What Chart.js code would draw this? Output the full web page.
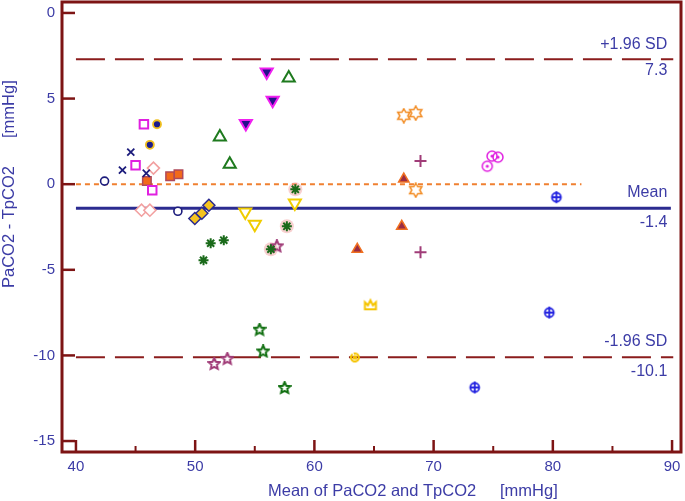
<!DOCTYPE html>
<html><head><meta charset="utf-8">
<script src="https://cdn.jsdelivr.net/npm/chart.js@4/dist/chart.umd.min.js"></script>
<style>html,body{margin:0;padding:0;background:#fff;}#wrap{width:685px;height:501px;}</style>
</head><body><div id="wrap"><canvas id="c" width="685" height="501"></canvas></div>
<script>
// ---------- data ----------
const meanDiff = -1.4, upperLoA = 7.3, lowerLoA = -10.1;
const xTickValues = [40, 50, 60, 70, 80, 90];
const xTickLabels = ['40', '50', '60', '70', '80', '90'];
const xMinorValues = [45, 55, 65, 75, 85];
const yTickValues = [-15, -10, -5, 0, 5, 10];
const yTickLabels = ['-15', '-10', '-5', '0', '5', '0'];
const xTitle = 'Mean of PaCO2 and TpCO2', xUnit = '[mmHg]';
const yTitle = 'PaCO2 - TpCO2', yUnit = '[mmHg]';

const xNavyX = [44.6, 43.9, 45.9];           const yNavyX = [1.87, 0.82, 0.64];
const xNavyCircle = [42.4, 48.55];           const yNavyCircle = [0.18, -1.58];
const xMagSquare = [45.7, 45.0, 46.4];       const yMagSquare = [3.5, 1.1, -0.35];
const xNavyDot = [46.8, 46.2];               const yNavyDot = [3.5, 2.3];
const xPinkDiamond = [46.5, 45.5, 46.2];     const yPinkDiamond = [0.94, -1.52, -1.52];
const xOrangeSquare = [47.9, 48.6, 45.95];   const yOrangeSquare = [0.47, 0.58, 0.18];
const xYellowDiamond = [49.97, 50.56, 51.15];const yYellowDiamond = [-2.0, -1.7, -1.23];
const xGreenTri = [52.07, 52.9, 57.85];      const yGreenTri = [2.75, 1.17, 6.2];
const xDownTri = [56.0, 56.5, 54.25];        const yDownTri = [6.55, 4.9, 3.55];
const xYellowDown = [54.2, 55.0, 58.36];     const yYellowDown = [-1.63, -2.34, -1.1];
const xGreenAst = [51.3, 52.4, 50.7, 58.4, 56.35, 57.69]; const yGreenAst = [-3.45, -3.27, -4.44, -0.3, -3.8, -2.46];
const xHalo = [58.4, 56.35, 57.69];          const yHalo = [-0.3, -3.8, -2.46];
const xPurpleStar = [51.6, 52.7, 56.85];     const yPurpleStar = [-10.5, -10.2, -3.63];
const xGreenStar = [55.4, 55.7, 57.5];       const yGreenStar = [-8.5, -9.77, -11.9];
const xBrownTri = [63.6, 67.33, 67.5];       const yBrownTri = [-3.8, -2.46, 0.3];
const xPurplePlus = [68.9, 68.9];            const yPurplePlus = [1.35, -3.97];
const xOrangeStar = [67.5, 68.5, 68.5];      const yOrangeStar = [4.0, 4.15, -0.35];
const xMagCircle = [74.9, 75.4, 74.5];       const yMagCircle = [1.64, 1.58, 1.05];
const xYellowCrown = [64.7];                 const yYellowCrown = [-7.07];
const xYellowSwirl = [63.4];                 const yYellowSwirl = [-10.06];
const xBlueCross = [80.3, 79.7, 73.45];      const yBlueCross = [-0.76, -7.5, -11.87];

// ---------- styles ----------
const AXIS = '#7d1414', TEXT = '#3c3ca6', FONT = '"Liberation Sans", Arial, sans-serif';
const pts = (xs, ys) => xs.map((x, i) => ({x, y: ys[i]}));
function mk(size, draw) { const c = document.createElement('canvas'); c.width = size; c.height = size; const g = c.getContext('2d'); draw(g, size / 2); return c; }
function starPath(g, c, n, ro, ri) { g.beginPath(); for (let i = 0; i < 2 * n; i++) { const r = i % 2 ? ri : ro; const a = -Math.PI / 2 + i * Math.PI / n; g.lineTo(c + r * Math.cos(a), c + r * Math.sin(a)); } g.closePath(); }
const star5 = col => mk(14, (g, c) => { starPath(g, c, 5, 6, 2.8); g.strokeStyle = col; g.lineWidth = 2; g.stroke(); });
const star6 = col => mk(16, (g, c) => { starPath(g, c, 6, 7, 4); g.strokeStyle = col; g.lineWidth = 1.5; g.stroke(); });
const crown = mk(16, (g, c) => { g.strokeStyle = '#f5c400'; g.lineWidth = 2; g.fillStyle = '#fff'; g.beginPath(); g.moveTo(c - 5.5, c + 4); g.lineTo(c - 5.5, c - 3); g.lineTo(c - 2.5, c); g.lineTo(c, c - 5); g.lineTo(c + 2.5, c); g.lineTo(c + 5.5, c - 3); g.lineTo(c + 5.5, c + 4); g.closePath(); g.fill(); g.stroke(); });
const swirl = mk(14, (g, c) => { g.strokeStyle = '#f5c400'; g.lineWidth = 2; g.beginPath(); g.arc(c, c + 1, 4, -Math.PI * 0.6, Math.PI * 1.3); g.stroke(); g.beginPath(); g.arc(c, c + 1, 1.3, 0, Math.PI * 2); g.stroke(); });
const ring = mk(14, (g, c) => { g.strokeStyle = '#e020e0'; g.lineWidth = 1.5; g.beginPath(); g.arc(c, c, 5, 0, Math.PI * 2); g.stroke(); g.fillStyle = '#e020e0'; g.beginPath(); g.arc(c, c, 1.6, 0, Math.PI * 2); g.fill(); });
const crossBox = mk(14, (g, c) => { g.strokeStyle = '#2424e0'; g.lineWidth = 1.8; g.beginPath(); g.arc(c, c, 4.5, 0, Math.PI * 2); g.moveTo(c - 4.5, c); g.lineTo(c + 4.5, c); g.moveTo(c, c - 6); g.lineTo(c, c + 6); g.stroke(); });

function sc(xs, ys, o) { return Object.assign({type: 'scatter', data: pts(xs, ys), pointRadius: 5, pointBorderWidth: 1.5, backgroundColor: 'rgba(255,255,255,0)'}, o); }
function refLine(y0, x0, x1, color, width, dash) { return {type: 'line', data: [{x: x0, y: y0}, {x: x1, y: y0}], borderColor: color, borderWidth: width, borderDash: dash, pointRadius: 0, fill: false, tension: 0}; }

const datasets = [
  sc(xNavyX, yNavyX, {pointStyle: 'crossRot', pointRadius: 5, borderColor: '#1c1c7c', pointBorderWidth: 1.8}),
  sc(xNavyCircle, yNavyCircle, {pointStyle: 'circle', pointRadius: 4, borderColor: '#1c1c7c', backgroundColor: '#fff', pointBorderWidth: 1.6}),
  sc(xMagSquare, yMagSquare, {pointStyle: 'rect', pointRadius: 6, borderColor: '#e020e0', backgroundColor: '#fff', pointBorderWidth: 2}),
  sc(xNavyDot, yNavyDot, {pointStyle: 'circle', pointRadius: 4, borderColor: '#f0c020', backgroundColor: '#1c1c8c', pointBorderWidth: 1.8}),
  sc(xPinkDiamond, yPinkDiamond, {pointStyle: 'rectRot', pointRadius: 6, borderColor: '#f2a0a0', backgroundColor: '#fff', pointBorderWidth: 1.6}),
  sc(xOrangeSquare, yOrangeSquare, {pointStyle: 'rect', pointRadius: 6, borderColor: '#b04a5a', backgroundColor: '#f26a1b', pointBorderWidth: 1.5}),
  sc(xYellowDiamond, yYellowDiamond, {pointStyle: 'rectRot', pointRadius: 6, borderColor: '#2a2a90', backgroundColor: '#f5c420', pointBorderWidth: 1.5}),
  sc(xGreenTri, yGreenTri, {pointStyle: 'triangle', pointRadius: 7, borderColor: '#1e7a1e', backgroundColor: '#fff', pointBorderWidth: 2}),
  sc(xDownTri, yDownTri, {pointStyle: 'triangle', rotation: 180, pointRotation: 180, pointRadius: 7, borderColor: '#f020f0', backgroundColor: '#24108a', pointBorderWidth: 2}),
  sc(xYellowDown, yYellowDown, {pointStyle: 'triangle', rotation: 180, pointRotation: 180, pointRadius: 7, borderColor: '#f0cc00', backgroundColor: '#fff', pointBorderWidth: 2}),
  sc(xGreenAst, yGreenAst, {pointStyle: 'star', pointRadius: 5, borderColor: '#1a6a1a', pointBorderWidth: 2}),
  sc(xPurpleStar, yPurpleStar, {pointStyle: star5('#a03c78')}),
  sc(xGreenStar, yGreenStar, {pointStyle: star5('#127012')}),
  sc(xBrownTri, yBrownTri, {pointStyle: 'triangle', pointRadius: 6, borderColor: '#f07020', backgroundColor: '#9a2c44', pointBorderWidth: 1.5}),
  sc(xPurplePlus, yPurplePlus, {pointStyle: 'cross', pointRadius: 6, borderColor: '#a03c78', pointBorderWidth: 2}),
  sc(xOrangeStar, yOrangeStar, {pointStyle: star6('#f28a20')}),
  sc(xMagCircle, yMagCircle, {pointStyle: ring}),
  sc(xYellowCrown, yYellowCrown, {pointStyle: crown}),
  sc(xYellowSwirl, yYellowSwirl, {pointStyle: swirl}),
  sc(xBlueCross, yBlueCross, {pointStyle: crossBox}),
  sc(xHalo, yHalo, {pointStyle: 'circle', pointRadius: 7, borderColor: 'rgba(0,0,0,0)', backgroundColor: 'rgba(240,150,150,0.45)', pointBorderWidth: 0}),
  refLine(upperLoA, 40, 90.1, '#8b1c1c', 2, [29, 10]),
  refLine(lowerLoA, 40, 90.1, '#8b1c1c', 2, [29, 10]),
  refLine(meanDiff, 40, 89.9, '#2b2b90', 3, []),
  refLine(0, 40, 82.4, '#f08030', 2, [5, 4])
];

const deco = {
  id: 'deco',
  afterDraw(chart) {
    const {ctx, chartArea: a, scales: {x, y}} = chart;
    ctx.save();
    ctx.strokeStyle = AXIS; ctx.lineWidth = 3;
    ctx.strokeRect(a.left, a.top, a.right - a.left, a.bottom - a.top);
    const seg = (x0, y0, x1, y1, w) => { ctx.lineWidth = w; ctx.beginPath(); ctx.moveTo(x0, y0); ctx.lineTo(x1, y1); ctx.stroke(); };
    xTickValues.forEach(v => { const p = x.getPixelForValue(v); seg(p, a.bottom, p, a.bottom - 12, 2.5); });
    xMinorValues.forEach(v => { const p = x.getPixelForValue(v); seg(p, a.bottom, p, a.bottom - 6, 2); });
    yTickValues.forEach(v => { const p = y.getPixelForValue(v); seg(a.left, p, a.left + 13, p, 2.5); });
    // tick labels
    ctx.fillStyle = TEXT; ctx.font = '15px ' + FONT; ctx.textBaseline = 'middle';
    ctx.textAlign = 'center';
    xTickValues.forEach((v, i) => ctx.fillText(xTickLabels[i], x.getPixelForValue(v), a.bottom + 15));
    ctx.textAlign = 'right';
    yTickValues.forEach((v, i) => ctx.fillText(yTickLabels[i], a.left - 7, y.getPixelForValue(v)));
    // reference line labels
    ctx.font = '16px ' + FONT;
    const lx = x.getPixelForValue(89.6);
    const put = (t, v, dy) => ctx.fillText(t, lx, y.getPixelForValue(v) + dy);
    put('+1.96 SD', upperLoA, -15); put(upperLoA.toFixed(1), upperLoA, 11);
    put('Mean', meanDiff, -16); put(meanDiff.toFixed(1), meanDiff, 14);
    put('-1.96 SD', lowerLoA, -16); put(lowerLoA.toFixed(1), lowerLoA, 14);
    // axis titles
    ctx.textAlign = 'left';
    ctx.font = '16.5px ' + FONT;
    ctx.fillText(xTitle, 268, 491); ctx.fillText(xUnit, 500, 491);
    ctx.translate(9, 0); ctx.rotate(-Math.PI / 2);
    ctx.fillText(yTitle, -288, 0); ctx.fillText(yUnit, -138, 0);
    ctx.restore();
  }
};

new Chart(document.getElementById('c'), {
  type: 'scatter',
  data: {datasets},
  plugins: [deco],
  options: {
    responsive: false, animation: false, devicePixelRatio: 1,
    layout: {autoPadding: false, padding: {top: 2, right: 4, left: 0, bottom: 0}},
    plugins: {legend: {display: false}, tooltip: {enabled: false}},
    scales: {
      x: {type: 'linear', min: 38.83, max: 90.75,
        grid: {display: false, drawTicks: false}, border: {display: false},
        afterBuildTicks: s => { s.ticks = xTickValues.map(v => ({value: v})); },
        afterFit: s => { s.height = 49; },
        ticks: {display: false}},
      y: {type: 'linear', min: -15.64, max: 10.64,
        grid: {display: false, drawTicks: false}, border: {display: false},
        afterBuildTicks: s => { s.ticks = yTickValues.map(v => ({value: v})); },
        afterFit: s => { s.width = 62; },
        ticks: {display: false}}
    }
  }
});
</script></body></html>
